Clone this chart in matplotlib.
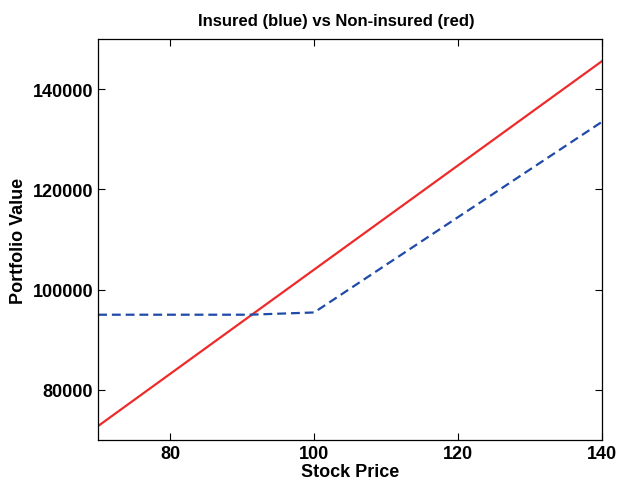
import numpy as np
import matplotlib
matplotlib.use("Agg")
import matplotlib.pyplot as plt

plt.rcParams['font.family'] = ['Liberation Sans', 'DejaVu Sans']
plt.rcParams['font.weight'] = 'bold'

# stock price grid and portfolio values
price_red = [70, 140]
value_red = [72800, 145600]

price_blue = [70, 91, 100, 140]
value_blue = [95000, 95000, 95450, 133500]

fig = plt.figure(figsize=(6.17, 4.81), dpi=100)
ax = fig.add_axes([0.159, 0.083, 0.817, 0.834])

ax.plot(price_red, value_red, color='#ee2a2a', lw=1.6)
ax.plot(price_blue, value_blue, color='#1f4aa8', lw=1.6, ls='--', dashes=(4, 2.2))

ax.set_xlim(70, 140)
ax.set_ylim(70000, 150000)
ax.set_xticks([80, 100, 120, 140])
ax.set_yticks([80000, 100000, 120000, 140000])
ax.tick_params(direction='in', top=True, right=True, labelsize=13, length=5, width=0.8)
for s in ax.spines.values():
    s.set_linewidth(0.9)

ax.set_xlabel('Stock Price', fontsize=13, fontweight='bold', labelpad=1)
ax.set_ylabel('Portfolio Value', fontsize=13, fontweight='bold', labelpad=4)
ax.set_title('Insured (blue) vs Non-insured (red)', fontsize=12, fontweight='bold', pad=10, x=0.472)

fig.savefig('out.png', dpi=100)
